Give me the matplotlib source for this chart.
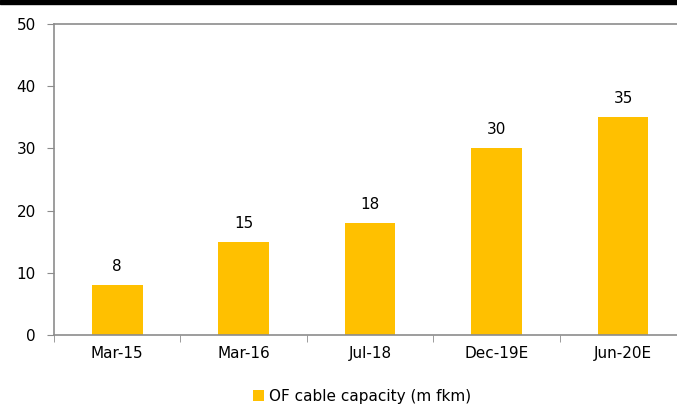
import matplotlib.pyplot as plt
from matplotlib.patches import Rectangle
import numpy as np

# OF cable capacity, million fibre km
periods = ['Mar-15', 'Mar-16', 'Jul-18', 'Dec-19E', 'Jun-20E']
capacity = [8, 15, 18, 30, 35]

BAR_COLOR = '#FFC000'
AXIS_COLOR = '#8C8C8C'

fig = plt.figure(figsize=(6.77, 4.05), dpi=100)
ax = fig.add_axes([0.0798, 0.1728, 0.934, 0.7679])

x = np.arange(len(periods))
bars = ax.bar(x, capacity, width=0.40, color=BAR_COLOR, label='OF cable capacity (m fkm)')

for xi, v in zip(x, capacity):
    ax.annotate(str(v), (xi, v), xytext=(0, 8), textcoords='offset points',
                ha='center', va='bottom', fontsize=11)

ax.set_xlim(-0.5, len(periods) - 0.5)
ax.set_ylim(0, 50)
ax.set_yticks(range(0, 51, 10))
ax.set_xticks(x)
ax.set_xticklabels(periods)
ax.set_xticks(np.arange(-0.5, len(periods)), minor=True)

ax.tick_params(axis='x', which='major', length=0, pad=8, labelsize=11)
ax.tick_params(axis='x', which='minor', length=5, color=AXIS_COLOR, direction='out')
ax.tick_params(axis='y', length=5, color=AXIS_COLOR, labelsize=11, pad=8)

for side in ['left', 'bottom', 'top']:
    ax.spines[side].set_color(AXIS_COLOR)
    ax.spines[side].set_linewidth(1.2)
ax.spines['right'].set_visible(False)

ax.legend(loc='center', bbox_to_anchor=(362 / 677, 1 - 396 / 405),
          bbox_transform=fig.transFigure, frameon=False, fontsize=11,
          handlelength=0.7, handleheight=0.7, handletextpad=0.3)

# black rule along the top edge
fig.patches.append(Rectangle((0, 1 - 4 / 405), 1, 4 / 405, transform=fig.transFigure,
                             color='black', zorder=10))

plt.savefig('out.png', dpi=100)
